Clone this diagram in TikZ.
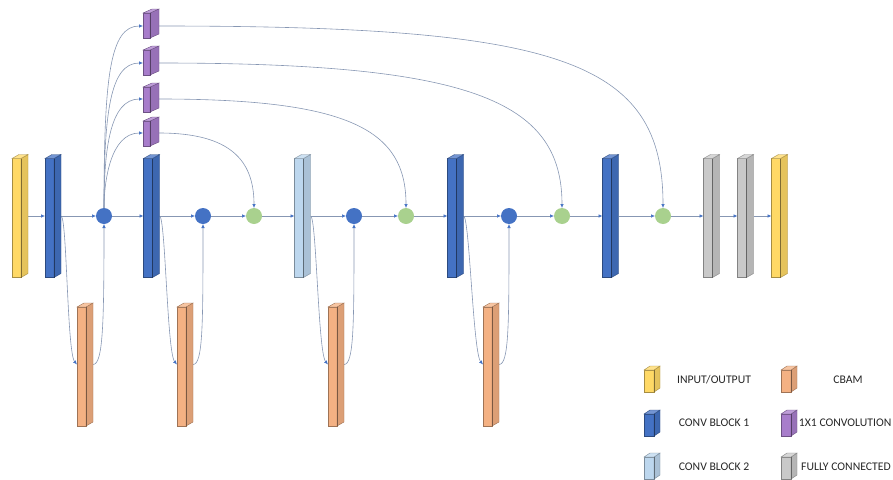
\documentclass[tikz,border=0pt]{standalone}
\usepackage{fontspec}
\setmainfont{Carlito}
\usetikzlibrary{arrows.meta,calc}

\definecolor{cyel}{HTML}{FFD966}
\definecolor{cblue}{HTML}{4472C4}
\definecolor{clight}{HTML}{BDD7EE}
\definecolor{corange}{HTML}{F4B183}
\definecolor{cpurple}{HTML}{A87DCB}
\definecolor{cgray}{HTML}{C9C9C9}
\definecolor{cgreen}{HTML}{A9D18E}
\definecolor{cline}{HTML}{8797B3}
\definecolor{ctip}{HTML}{4472C4}

% 3-D block drawn over the bounding box of a named node:
% #1 node, #2 colour, #3 depth (x), #4 depth (y)
\newcommand\cuboid[4]{%
  \filldraw[facefront=#2] ($(#1.north west)+(0,#4)$) rectangle ($(#1.south east)+(-#3,0)$);
  \filldraw[faceside=#2] ($(#1.north east)+(-#3,#4)$) -- (#1.north east)
     -- ($(#1.south east)+(0,-#4)$) -- ($(#1.south east)+(-#3,0)$) -- cycle;
  \filldraw[facetop=#2] ($(#1.north west)+(0,#4)$) -- ($(#1.north west)+(#3,0)$)
     -- (#1.north east) -- ($(#1.north east)+(-#3,#4)$) -- cycle;
  \draw[facestreak=#2] ($(#1.north east)+(-#3,#4)$) -- ($(#1.south east)+(-#3,0)$);
}

\begin{document}
\begin{tikzpicture}[x=1pt,y=-1pt,
  box/.style={inner sep=0pt, outer sep=0pt, minimum width=16pt},
  tall/.style={box, minimum height=123pt},
  cubelet/.style={box, minimum height=29pt},
  keybox/.style={box, minimum height=26pt},
  joint/.style={circle, inner sep=0pt, outer sep=0pt, minimum size=16pt, fill=#1},
  facefront/.style={fill=#1, draw=#1!65!black, line width=0.4pt},
  faceside/.style={fill=#1!90!black, draw=#1!65!black, line width=0.4pt},
  facetop/.style={fill=#1!75!white, draw=#1!65!black, line width=0.4pt},
  facestreak/.style={draw=#1!50!black, line width=0.6pt},
  conn/.style={draw=cline, line width=0.6pt,
    -{Latex[length=4pt,width=3.5pt,color=ctip]}},
  keytext/.style={inner sep=0pt, text=black!85,
    font=\fontsize{11.7}{14}\selectfont}]

\useasboundingbox (0,0) rectangle (893,479);
\clip (0,0) rectangle (893,479);

% main row of blocks
\node[tall] (in)  at (20,216)    {};
\node[tall] (b1)  at (53,216)    {};
\node[tall] (b2)  at (151.5,216) {};
\node[tall] (lb)  at (302.5,216) {};
\node[tall] (b3)  at (455.5,216) {};
\node[tall] (b4)  at (610.5,216) {};
\node[tall] (fc1) at (711.5,216) {};
\node[tall] (fc2) at (745.5,216) {};
\node[tall] (out) at (779.5,216) {};

% attention (CBAM) blocks
\node[tall] (cb1) at (85,364.5)  {};
\node[tall] (cb2) at (185,364.5) {};
\node[tall] (cb3) at (336,364.5) {};
\node[tall] (cb4) at (491,364.5) {};

% 1x1 convolutions
\node[cubelet] (p1) at (151,23.5)  {};
\node[cubelet] (p2) at (151,60.5)  {};
\node[cubelet] (p3) at (151,97.5)  {};
\node[cubelet] (p4) at (151,131.5) {};

% joints
\node[joint=cblue]  (c1) at (104,216) {};
\node[joint=cblue]  (c2) at (203,216) {};
\node[joint=cgreen] (g1) at (254,216) {};
\node[joint=cblue]  (c3) at (354,216) {};
\node[joint=cgreen] (g2) at (406,216) {};
\node[joint=cblue]  (c4) at (509,216) {};
\node[joint=cgreen] (g3) at (562,216) {};
\node[joint=cgreen] (g4) at (663,216) {};

% main flow
\draw[conn] (in.east)  -- (b1.west);
\draw[conn] (b1.east)  -- (c1.west);
\draw[conn] (c1.east)  -- (b2.west);
\draw[conn] (b2.east)  -- (c2.west);
\draw[conn] (c2.east)  -- (g1.west);
\draw[conn] (g1.east)  -- (lb.west);
\draw[conn] (lb.east)  -- (c3.west);
\draw[conn] (c3.east)  -- (g2.west);
\draw[conn] (g2.east)  -- (b3.west);
\draw[conn] (b3.east)  -- (c4.west);
\draw[conn] (c4.east)  -- (g3.west);
\draw[conn] (g3.east)  -- (b4.west);
\draw[conn] (b4.east)  -- (g4.west);
\draw[conn] (g4.east)  -- (fc1.west);
\draw[conn] (fc1.east) -- (fc2.west);
\draw[conn] (fc2.east) -- (out.west);

% attention branches
\foreach \src/\att/\dst in {b1/cb1/c1, b2/cb2/c2, lb/cb3/c3, b3/cb4/c4}{
  \draw[conn] (\src.east) .. controls +(6,0) and +(-10,-12) .. (\att.west);
  \draw[conn] (\att.east) .. controls +(10,0) and +(0,100) .. (\dst.south);
}

% fan-out to the 1x1 convolutions
\draw[conn] (c1.north) .. controls (104,76)  and (110,26)  .. ([yshift=-2.5pt]p1.west);
\draw[conn] (c1.north) .. controls (104,113) and (110,63)  .. ([yshift=-2.5pt]p2.west);
\draw[conn] (c1.north) .. controls (104,149) and (110,99)  .. ([yshift=-1.5pt]p3.west);
\draw[conn] (c1.north) .. controls (104,183) and (110,133) .. ([yshift=-1.5pt]p4.west);

% long skip connections into the green joints
\draw[conn] ([yshift=-2.5pt]p1.east) .. controls (560,26) and (663,60)  .. (g4.north);
\draw[conn] ([yshift=-2.5pt]p2.east) .. controls (470,63) and (562,100) .. (g3.north);
\draw[conn] ([yshift=-1.5pt]p3.east) .. controls (350,99) and (406,130) .. (g2.north);
\draw[conn] ([yshift=-1.5pt]p4.east) .. controls (230,133) and (254,160) .. (g1.north);

% block faces
\cuboid{in}{cyel}{7}{4}
\cuboid{b1}{cblue}{7}{4}
\cuboid{b2}{cblue}{7}{4}
\cuboid{lb}{clight}{7}{4}
\cuboid{b3}{cblue}{7}{4}
\cuboid{b4}{cblue}{7}{4}
\cuboid{fc1}{cgray}{7}{4}
\cuboid{fc2}{cgray}{7}{4}
\cuboid{out}{cyel}{7}{4}
\cuboid{cb1}{corange}{7}{4}
\cuboid{cb2}{corange}{7}{4}
\cuboid{cb3}{corange}{7}{4}
\cuboid{cb4}{corange}{7}{4}
\cuboid{p1}{cpurple}{9}{4}
\cuboid{p2}{cpurple}{9}{4}
\cuboid{p3}{cpurple}{9}{4}
\cuboid{p4}{cpurple}{9}{4}

% legend
\node[keybox] (k1) at (652,379) {};
\node[keybox] (k2) at (652,423) {};
\node[keybox] (k3) at (652,466) {};
\node[keybox] (k4) at (789,379) {};
\node[keybox] (k5) at (789,423) {};
\node[keybox] (k6) at (789,466) {};
\cuboid{k1}{cyel}{6}{4}
\cuboid{k2}{cblue}{6}{4}
\cuboid{k3}{clight}{6}{4}
\cuboid{k4}{corange}{6}{4}
\cuboid{k5}{cpurple}{6}{4}
\cuboid{k6}{cgray}{6}{4}
\node[keytext] (t1) at (714,380) {INPUT/OUTPUT};
\node[keytext] (t2) at (714,423) {CONV BLOCK 1};
\node[keytext] (t3) at (714,467) {CONV BLOCK 2};
\node[keytext] (t4) at (848,380) {CBAM};
\node[keytext, anchor=east] (t5) at (891.5,423) {1X1 CONVOLUTION};
\node[keytext, anchor=west] (t6) at (801,467) {FULLY CONNECTED};
\end{tikzpicture}
\end{document}
